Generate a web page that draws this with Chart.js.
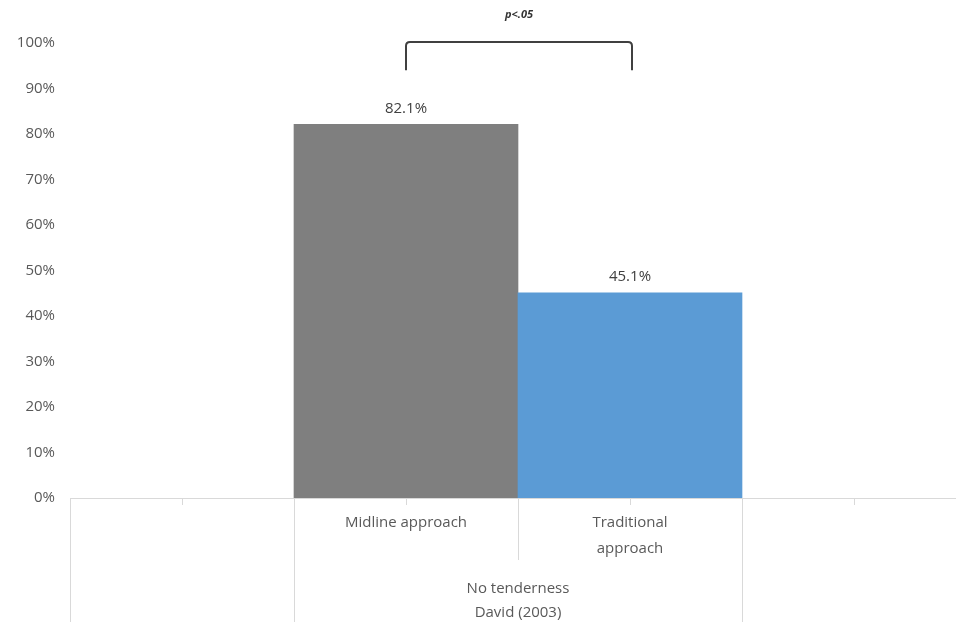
<!DOCTYPE html>
<html>
<head>
<meta charset="utf-8">
<script src="https://cdn.jsdelivr.net/npm/chart.js@4.4.1/dist/chart.umd.min.js"></script>
<style>
  html, body { margin: 0; padding: 0; background: #fff; overflow: hidden; }
  #wrap { position: absolute; left: 0; top: 0; width: 1080px; height: 622px; }
</style>
</head>
<body>
<div id="wrap"><canvas id="chart" width="1080" height="622"></canvas></div>
<script>
// chart data
const categories = ['', 'Midline approach', ['Traditional', 'approach'], ''];
const values = [null, 82.1, 45.1, null];
const groupLabel = ['No tenderness', 'David (2003)'];
const yMin = 0;
const yMax = 100;
const yStep = 10;
const sigLabel = 'p<.05';

const barColors = ['#7f7f7f', '#7f7f7f', '#5b9bd5', '#5b9bd5'];
const textColor = '#595959';
const axisColor = '#d9d9d9';
const fontFamily = '"Open Sans", "DejaVu Sans", sans-serif';

// extra drawing: multi-level axis lines, value labels, significance bracket
const decorations = {
    id: 'decorations',
    afterDraw(chart) {
        const ctx = chart.ctx;
        const x = chart.scales.x;
        const y = chart.scales.y;
        const bars = chart.getDatasetMeta(0).data;
        const bottom = chart.chartArea.bottom;
        const half = (x.getPixelForValue(1) - x.getPixelForValue(0)) / 2;

        ctx.save();
        ctx.strokeStyle = axisColor;
        ctx.lineWidth = 1;
        // short ticks at category centres
        categories.forEach(function (c, i) {
            const px = Math.round(x.getPixelForValue(i)) + 0.5;
            ctx.beginPath();
            ctx.moveTo(px, bottom);
            ctx.lineTo(px, bottom + 7);
            ctx.stroke();
        });
        // category borders
        const borders = [
            [x.left, chart.height],
            [x.getPixelForValue(1) - half, chart.height],
            [x.getPixelForValue(1) + half, bottom + 62],
            [x.getPixelForValue(2) + half, chart.height]
        ];
        borders.forEach(function (b) {
            const px = Math.round(b[0]) + 0.5;
            ctx.beginPath();
            ctx.moveTo(px, bottom);
            ctx.lineTo(px, b[1]);
            ctx.stroke();
        });

        // group label
        ctx.fillStyle = textColor;
        ctx.font = '15px ' + fontFamily;
        ctx.textAlign = 'center';
        ctx.textBaseline = 'middle';
        const gx = x.getPixelForValue(1) + half;
        groupLabel.forEach(function (t, i) {
            ctx.fillText(t, gx, bottom + 91 + i * 24);
        });

        // value labels
        ctx.fillStyle = '#404040';
        bars.forEach(function (bar, i) {
            if (values[i] == null) return;
            ctx.fillText(values[i].toFixed(1) + '%', bar.x, bar.y - 16);
        });

        // significance bracket
        const x1 = bars[1].x;
        const x2 = bars[2].x + 2;
        const top = y.getPixelForValue(100) - 1;
        const leg = y.getPixelForValue(94);
        const r = 4;
        ctx.strokeStyle = '#404040';
        ctx.lineWidth = 2;
        ctx.beginPath();
        ctx.moveTo(x1, leg);
        ctx.lineTo(x1, top + r);
        ctx.quadraticCurveTo(x1, top, x1 + r, top);
        ctx.lineTo(x2 - r, top);
        ctx.quadraticCurveTo(x2, top, x2, top + r);
        ctx.lineTo(x2, leg);
        ctx.stroke();

        ctx.fillStyle = '#333';
        ctx.font = 'italic bold 11px ' + fontFamily;
        ctx.fillText(sigLabel, (x1 + x2) / 2, 15);
        ctx.restore();
    }
};

new Chart(document.getElementById('chart'), {
    type: 'bar',
    data: {
        labels: categories,
        datasets: [{
            data: values,
            backgroundColor: barColors,
            borderWidth: 0,
            barPercentage: 1,
            categoryPercentage: 1
        }]
    },
    options: {
        responsive: false,
        devicePixelRatio: 1,
        animation: false,
        layout: { padding: { left: 0, top: 43, right: 114, bottom: 0 } },
        plugins: {
            legend: { display: false },
            tooltip: { enabled: false }
        },
        scales: {
            x: {
                grid: { display: false },
                border: { display: true, color: axisColor, width: 1 },
                ticks: {
                    color: textColor,
                    font: { family: fontFamily, size: 15, lineHeight: 1.73 },
                    padding: 4,
                    maxRotation: 0,
                    autoSkip: false
                },
                afterFit: function (scale) { scale.height = 124; }
            },
            y: {
                min: yMin,
                max: yMax,
                grid: { display: false },
                border: { display: false },
                ticks: {
                    stepSize: yStep,
                    color: textColor,
                    font: { family: fontFamily, size: 15 },
                    padding: 7,
                    callback: function (v) { return v + '%'; }
                },
                afterFit: function (scale) { scale.width = 70; }
            }
        }
    },
    plugins: [decorations]
});
</script>
</body>
</html>
